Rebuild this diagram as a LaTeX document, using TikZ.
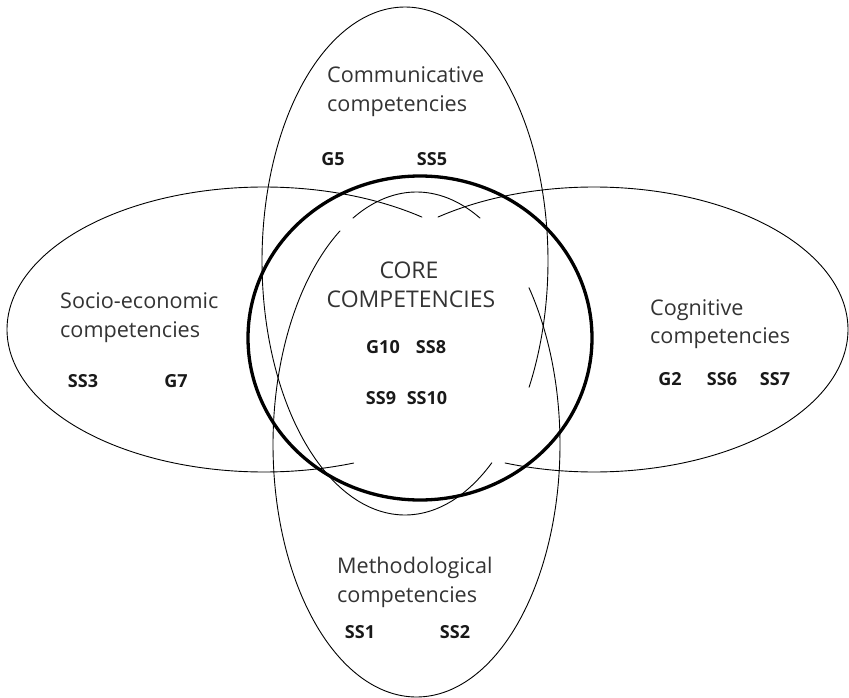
\documentclass[tikz,border=0pt]{standalone}
\usepackage{fontspec}
\setmainfont{Open Sans}
\begin{document}
\begin{tikzpicture}[x=1pt,y=-1pt,
  ring/.style={line width=0.9pt, line cap=round},
  corering/.style={line width=3.3pt},
  lab/.style={font=\fontsize{21.6}{25}\selectfont, text=black!80, inner sep=0pt, anchor=base west},
  corelab/.style={font=\fontsize{23}{27}\selectfont, text=black!80, inner sep=0pt, anchor=base},
  code/.style={font=\fontsize{18}{22}\selectfont\bfseries, text=black!90, inner sep=0pt, anchor=base}]
\useasboundingbox (0,0) rectangle (849,698);
% top ellipse (Communicative)
\draw[ring] plot[domain=52.6:389.8, samples=240] ({405+143*cos(\x)},{261+254*sin(\x)});
% bottom ellipse (Methodological)
\draw[ring] plot[domain=243.7:296.3, samples=60] ({416.5+143.5*cos(\x)},{444.5+252.5*sin(\x)});
\draw[ring] plot[domain=321.6:597.8, samples=240] ({416.5+143.5*cos(\x)},{444.5+252.5*sin(\x)});
% left ellipse (Socio-economic)
\draw[ring] plot[domain=69.6:307.9, samples=240] ({264+257*cos(\x)},{329.5+142.5*sin(\x)});
% right ellipse (Cognitive)
\draw[ring] plot[domain=232.1:470.5, samples=240] ({594+254*cos(\x)},{329.5+142.5*sin(\x)});
% core circle
\draw[corering] (420,338) ellipse [x radius=172pt, y radius=162pt];
% labels
\node[lab] (comm1) at (327,83) {Communicative};
\node[lab] (comm2) at (327,112) {competencies};
\node[lab] (soc1) at (60,308) {Socio-economic};
\node[lab] (soc2) at (60,337) {competencies};
\node[lab] (cog1) at (650,315) {Cognitive};
\node[lab] (cog2) at (650,343) {competencies};
\node[lab] (meth1) at (337,573) {Methodological};
\node[lab] (meth2) at (337,602) {competencies};
\node[corelab] (core1) at (409,278) {CORE};
\node[corelab] (core2) at (411,307) {COMPETENCIES};
% codes
\node[code] (g5) at (333,165) {G5};
\node[code] (ss5) at (432,165) {SS5};
\node[code] (ss3) at (83,387) {SS3};
\node[code] (g7) at (176,387) {G7};
\node[code] (g10) at (383,353) {G10};
\node[code] (ss8) at (431,353) {SS8};
\node[code] (ss9) at (381,404) {SS9};
\node[code] (ss10) at (427,404) {SS10};
\node[code] (g2) at (670,385) {G2};
\node[code] (ss6) at (722,385) {SS6};
\node[code] (ss7) at (775,385) {SS7};
\node[code] (ss1) at (360,638) {SS1};
\node[code] (ss2) at (455,638) {SS2};
\end{tikzpicture}
\end{document}
